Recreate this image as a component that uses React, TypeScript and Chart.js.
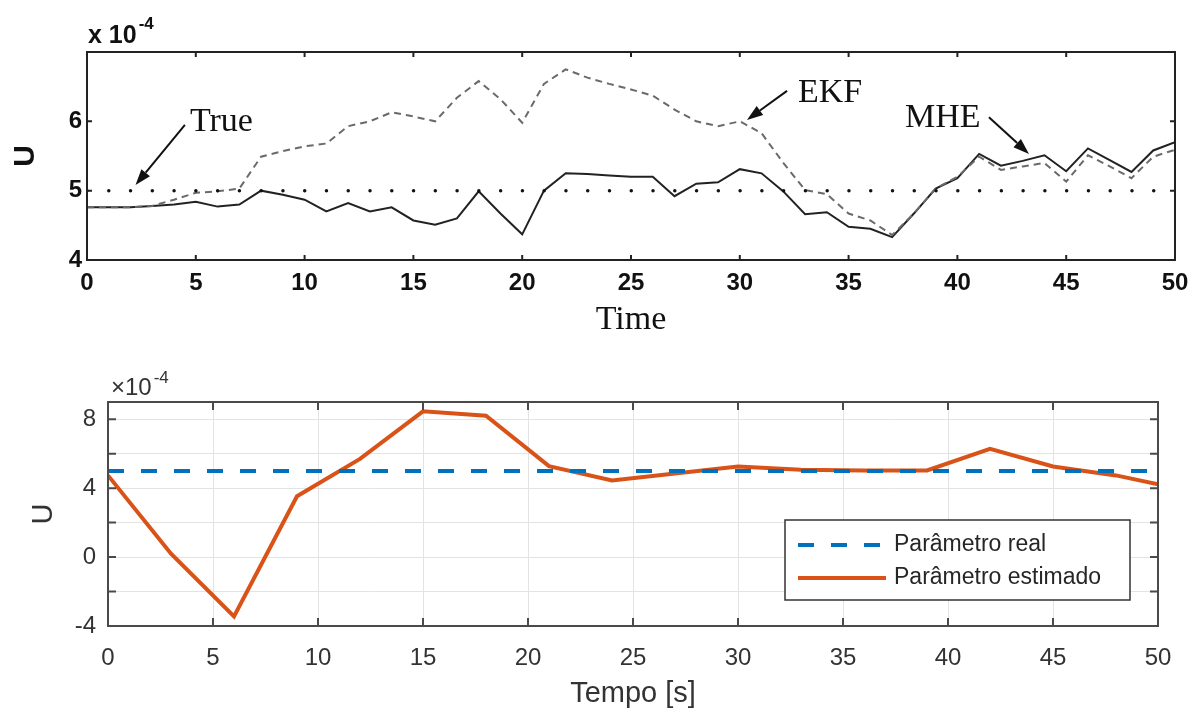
import React, { useEffect, useRef } from 'react';
import { Chart, registerables } from 'chart.js';

Chart.register(...registerables);

// ---------- Top panel (values in units of 1e-4) ----------
const topTime = [0, 1, 2, 3, 4, 5, 6, 7, 8, 9, 10, 11, 12, 13, 14, 15, 16, 17, 18, 19, 20, 21, 22, 23, 24, 25, 26, 27, 28, 29, 30, 31, 32, 33, 34, 35, 36, 37, 38, 39, 40, 41, 42, 43, 44, 45, 46, 47, 48, 49, 50];
const topMhe = [4.76, 4.76, 4.76, 4.78, 4.8, 4.84, 4.77, 4.8, 5.0, 4.94, 4.87, 4.7, 4.82, 4.7, 4.76, 4.57, 4.51, 4.6, 4.99, 4.67, 4.37, 5.0, 5.25, 5.24, 5.22, 5.2, 5.2, 4.92, 5.1, 5.12, 5.31, 5.25, 4.99, 4.66, 4.69, 4.48, 4.45, 4.33, 4.67, 5.03, 5.18, 5.53, 5.36, 5.43, 5.51, 5.28, 5.61, 5.44, 5.27, 5.58, 5.7];
const topEkf = [4.76, 4.76, 4.76, 4.78, 4.87, 4.97, 4.99, 5.03, 5.49, 5.57, 5.64, 5.68, 5.93, 6.0, 6.13, 6.07, 6.0, 6.34, 6.58, 6.32, 5.98, 6.54, 6.75, 6.63, 6.54, 6.46, 6.37, 6.17, 6.0, 5.93, 6.0, 5.83, 5.4, 5.01, 4.95, 4.67, 4.57, 4.36, 4.67, 5.03, 5.2, 5.49, 5.3, 5.35, 5.4, 5.13, 5.51, 5.35, 5.18, 5.49, 5.59];
const topTrueTime = [0, 50];
const topTrueU = [5, 5];
const topXTicks = [0, 5, 10, 15, 20, 25, 30, 35, 40, 45, 50];
const topYTicks = [4, 5, 6, 7];
const topYLabels = ['4', '5', '6', ''];

// annotations (data coordinates)
const annoLabels = ['True', 'EKF', 'MHE'];
const annoTextX = [4.73, 32.67, 37.59];
const annoTextY = [5.86, 6.28, 5.92];
const arrowTailX = [4.5, 32.17, 41.45];
const arrowTailY = [5.95, 6.44, 6.06];
const arrowTipX = [2.23, 30.33, 43.29];
const arrowTipY = [5.08, 6.02, 5.53];

// ---------- Bottom panel (values in units of 1e-4) ----------
const botTime = [0, 3, 6, 9, 12, 15, 18, 21, 24, 27, 30, 33, 36, 39, 42, 45, 48, 50];
const botEstimated = [4.74, 0.2, -3.45, 3.53, 5.7, 8.46, 8.2, 5.28, 4.45, 4.85, 5.26, 5.07, 5.03, 5.03, 6.28, 5.26, 4.74, 4.22];
const botRealTime = [0, 50];
const botReal = [5, 5];
const botXTicks = [0, 5, 10, 15, 20, 25, 30, 35, 40, 45, 50];
const botYTicks = [-4, -2, 0, 2, 4, 6, 8];
const botYLabels = ['-4', '', '0', '', '4', '', '8'];

const pts = (xs: number[], ys: number[]) => xs.map((x, i) => ({ x, y: ys[i] }));

const framePlugin = {
  id: 'frame',
  afterDatasetsDraw(chart: any, _args: any, opts: any) {
    const { ctx, chartArea: a, scales } = chart;
    ctx.save();
    ctx.strokeStyle = opts.color;
    ctx.lineWidth = opts.width;
    const tl = opts.tickLen;
    ctx.beginPath();
    for (const v of opts.xTicks) {
      const px = scales.x.getPixelForValue(v);
      ctx.moveTo(px, a.bottom); ctx.lineTo(px, a.bottom - tl);
      ctx.moveTo(px, a.top); ctx.lineTo(px, a.top + tl);
    }
    for (const v of opts.yTicks) {
      const py = scales.y.getPixelForValue(v);
      ctx.moveTo(a.left, py); ctx.lineTo(a.left + tl, py);
      ctx.moveTo(a.right, py); ctx.lineTo(a.right - tl, py);
    }
    ctx.stroke();
    ctx.strokeRect(a.left, a.top, a.right - a.left, a.bottom - a.top);
    // exponent label
    const e = opts.exp;
    ctx.fillStyle = e.color;
    ctx.textBaseline = 'alphabetic';
    ctx.textAlign = 'left';
    ctx.font = e.font;
    ctx.fillText(e.base, a.left + e.dx, a.top - e.dy);
    const w = ctx.measureText(e.base).width;
    ctx.font = e.supFont;
    ctx.fillText('-4', a.left + e.dx + w + 2, a.top - e.dy - e.supRise);
    ctx.restore();
  },
};

const annoPlugin = {
  id: 'anno',
  afterDatasetsDraw(chart: any) {
    const { ctx, scales } = chart;
    ctx.save();
    ctx.fillStyle = '#111';
    ctx.strokeStyle = '#111';
    ctx.lineWidth = 2;
    ctx.font = '34px "Liberation Serif"';
    ctx.textBaseline = 'alphabetic';
    ctx.textAlign = 'left';
    annoLabels.forEach((lab, i) => {
      ctx.fillText(lab, scales.x.getPixelForValue(annoTextX[i]), scales.y.getPixelForValue(annoTextY[i]));
      const x0 = scales.x.getPixelForValue(arrowTailX[i]);
      const y0 = scales.y.getPixelForValue(arrowTailY[i]);
      const x1 = scales.x.getPixelForValue(arrowTipX[i]);
      const y1 = scales.y.getPixelForValue(arrowTipY[i]);
      const ang = Math.atan2(y1 - y0, x1 - x0);
      const L = 16, W = 5.5;
      const bx = x1 - L * Math.cos(ang), by = y1 - L * Math.sin(ang);
      ctx.beginPath();
      ctx.moveTo(x0, y0); ctx.lineTo(bx, by);
      ctx.stroke();
      ctx.beginPath();
      ctx.moveTo(x1, y1);
      ctx.lineTo(bx + W * Math.sin(ang), by - W * Math.cos(ang));
      ctx.lineTo(bx - W * Math.sin(ang), by + W * Math.cos(ang));
      ctx.closePath();
      ctx.fill();
    });
    ctx.restore();
  },
};

const legendPlugin = {
  id: 'boxLegend',
  afterDatasetsDraw(chart: any) {
    const { ctx, chartArea: a } = chart;
    const bw = 345, bh = 80;
    const left = a.right - 28 - bw;
    const top = a.bottom - 26 - bh;
    ctx.save();
    ctx.fillStyle = '#fff';
    ctx.fillRect(left, top, bw, bh);
    ctx.strokeStyle = '#333';
    ctx.lineWidth = 1.5;
    ctx.strokeRect(left, top, bw, bh);
    const rows = [25, 58];
    chart.data.datasets.forEach((ds: any, i: number) => {
      const y = top + rows[i];
      ctx.beginPath();
      ctx.strokeStyle = ds.borderColor;
      ctx.lineWidth = ds.borderWidth;
      ctx.setLineDash(ds.borderDash || []);
      ctx.moveTo(left + 13, y); ctx.lineTo(left + 101, y);
      ctx.stroke();
      ctx.setLineDash([]);
      ctx.fillStyle = '#262626';
      ctx.font = '23px "Liberation Sans"';
      ctx.textBaseline = 'middle';
      ctx.textAlign = 'left';
      ctx.fillText(ds.label, left + 109, y);
    });
    ctx.restore();
  },
};

function topConfig(): any {
  return {
    type: 'line',
    data: {
      datasets: [
        { label: 'True', data: pts(topTrueTime, topTrueU), borderColor: '#111', borderWidth: 3.5, borderDash: [0.01, 21.76], borderCapStyle: 'round', pointRadius: 0 },
        { label: 'EKF', data: pts(topTime, topEkf), borderColor: '#6a6a6a', borderWidth: 2, borderDash: [7, 5], pointRadius: 0 },
        { label: 'MHE', data: pts(topTime, topMhe), borderColor: '#222', borderWidth: 2, pointRadius: 0 },
      ],
    },
    options: {
      responsive: false,
      animation: false,
      layout: { padding: { left: 0, top: 52, right: 25, bottom: 0 } },
      plugins: {
        legend: { display: false },
        tooltip: { enabled: false },
        frame: {
          color: '#222', width: 2, tickLen: 5, xTicks: topXTicks, yTicks: topYTicks,
          exp: { base: 'x 10', font: 'bold 25px "Liberation Sans"', supFont: 'bold 17px "Liberation Sans"', color: '#111', dx: 1, dy: 9, supRise: 14 },
        },
      },
      scales: {
        x: {
          type: 'linear', min: 0, max: 50,
          afterBuildTicks: (s: any) => { s.ticks = topXTicks.map((v) => ({ value: v })); },
          afterFit: (s: any) => { s.height = 80; },
          grid: { display: false, drawTicks: false },
          border: { display: false },
          ticks: { padding: 9, autoSkip: false, maxRotation: 0, color: '#111', font: { family: 'Liberation Sans', size: 24, weight: 'bold' } },
          title: { display: true, text: 'Time', color: '#111', font: { family: 'Liberation Serif', size: 34 }, padding: { top: 0, bottom: 0 } },
        },
        y: {
          type: 'linear', min: 4, max: 7,
          afterBuildTicks: (s: any) => { s.ticks = topYTicks.map((v) => ({ value: v })); },
          afterFit: (s: any) => { s.width = 87; },
          grid: { display: false, drawTicks: false },
          border: { display: false },
          ticks: { padding: 5, autoSkip: false, color: '#111', font: { family: 'Liberation Sans', size: 24, weight: 'bold' }, callback: (_v: any, i: number) => topYLabels[i] },
          title: { display: true, text: 'U', color: '#111', font: { family: 'Liberation Sans', size: 30, weight: 'bold' }, padding: { top: 8, bottom: 0 } },
        },
      },
    },
    plugins: [framePlugin, annoPlugin],
  };
}

function botConfig(): any {
  return {
    type: 'line',
    data: {
      datasets: [
        { label: 'Parâmetro real', data: pts(botRealTime, botReal), borderColor: '#0072BD', borderWidth: 4, borderDash: [16, 17], pointRadius: 0 },
        { label: 'Parâmetro estimado', data: pts(botTime, botEstimated), borderColor: '#D95319', borderWidth: 4, pointRadius: 0 },
      ],
    },
    options: {
      responsive: false,
      animation: false,
      layout: { padding: { left: 0, top: 62, right: 42, bottom: 0 } },
      plugins: {
        legend: { display: false },
        tooltip: { enabled: false },
        frame: {
          color: '#4a4a4a', width: 2, tickLen: 8, xTicks: botXTicks, yTicks: botYTicks,
          exp: { base: '×10', font: '24px "Liberation Sans"', supFont: '17px "Liberation Sans"', color: '#333', dx: 3, dy: 7, supRise: 12 },
        },
      },
      scales: {
        x: {
          type: 'linear', min: 0, max: 50,
          afterBuildTicks: (s: any) => { s.ticks = botXTicks.map((v) => ({ value: v })); },
          afterFit: (s: any) => { s.height = 91; },
          grid: { display: true, drawTicks: false, color: '#e3e3e3', lineWidth: 1 },
          border: { display: false },
          ticks: { padding: 18, autoSkip: false, maxRotation: 0, color: '#333', font: { family: 'Liberation Sans', size: 24 } },
          title: { display: true, text: 'Tempo [s]', color: '#333', font: { family: 'Liberation Sans', size: 29 }, padding: { top: 0, bottom: 6 } },
        },
        y: {
          type: 'linear', min: -4, max: 9,
          afterBuildTicks: (s: any) => { s.ticks = botYTicks.map((v) => ({ value: v })); },
          afterFit: (s: any) => { s.width = 108; },
          grid: { display: true, drawTicks: false, color: '#e3e3e3', lineWidth: 1 },
          border: { display: false },
          ticks: { padding: 12, autoSkip: false, color: '#333', font: { family: 'Liberation Sans', size: 24 }, callback: (_v: any, i: number) => botYLabels[i] },
          title: { display: true, text: 'U', color: '#333', font: { family: 'Liberation Sans', size: 29 }, padding: { top: 27, bottom: 0 } },
        },
      },
    },
    plugins: [framePlugin, legendPlugin],
  };
}

export default function App() {
  const topRef = useRef<HTMLCanvasElement>(null);
  const botRef = useRef<HTMLCanvasElement>(null);
  useEffect(() => {
    const c1 = new Chart(topRef.current as HTMLCanvasElement, topConfig());
    const c2 = new Chart(botRef.current as HTMLCanvasElement, botConfig());
    return () => {
      c1.destroy();
      c2.destroy();
    };
  }, []);
  return (
    <div style={{ position: 'absolute', left: 0, top: 0, width: 1200, height: 717, background: '#fff' }}>
      <canvas ref={topRef} width={1200} height={340} style={{ position: 'absolute', left: 0, top: 0, width: 1200, height: 340 }} />
      <canvas ref={botRef} width={1200} height={377} style={{ position: 'absolute', left: 0, top: 340, width: 1200, height: 377 }} />
    </div>
  );
}
